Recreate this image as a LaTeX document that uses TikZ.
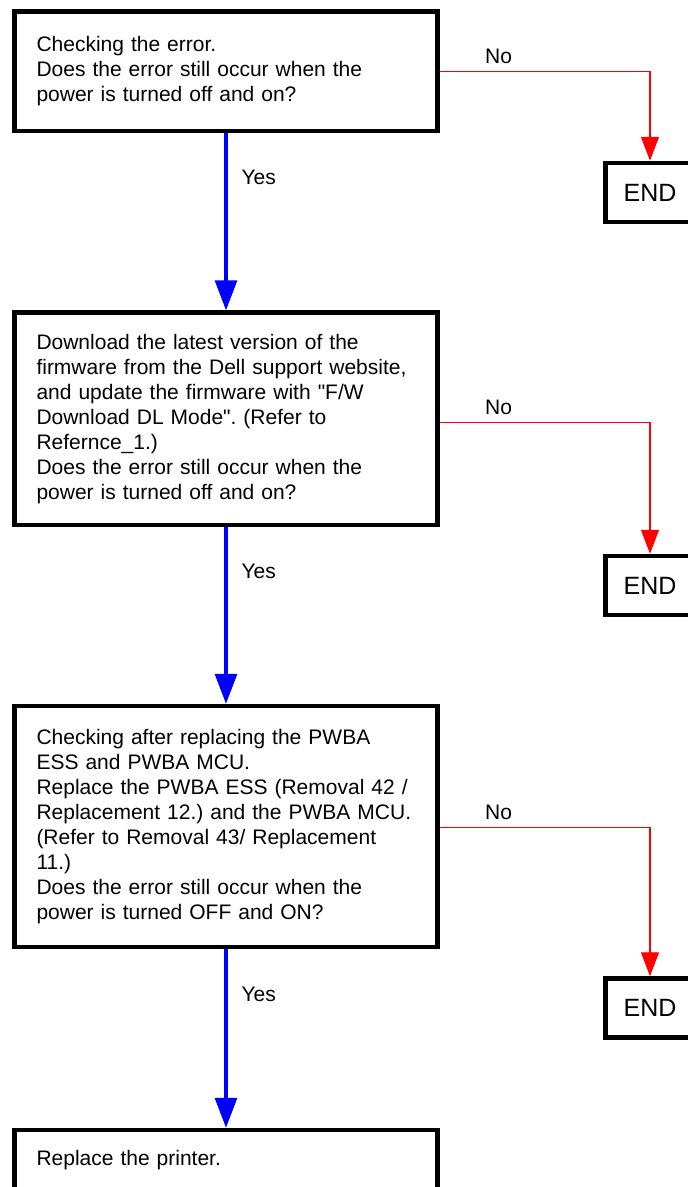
\documentclass[tikz,border=0pt]{standalone}
\usepackage{fontspec}
\setmainfont{Liberation Sans}[Ligatures=TeXOff]
\frenchspacing
\usetikzlibrary{arrows.meta}
\tikzset{
  stepbox/.style={draw, line width=4.5pt, text width=379pt, align=left,
    inner xsep=22pt, inner ysep=0pt, minimum width=423pt,
    font=\fontsize{21}{25}\selectfont},
  endbox/.style={draw, line width=4.5pt, minimum width=89pt, minimum height=59pt,
    inner sep=0pt, font=\fontsize{25}{30}\selectfont},
  yesarrow/.style={draw=blue, line width=3.2pt, -{Triangle[width=22pt,length=30pt]}},
  noarrow/.style={draw=red, line width=1.2pt, -{Triangle[width=18pt,length=24pt]}},
  lbl/.style={font=\fontsize{21}{25}\selectfont, inner sep=0pt, text=black}
}
\begin{document}
\frenchspacing
\begin{tikzpicture}[x=1pt,y=-1pt]
\useasboundingbox (0,0) rectangle (688,1187);
\clip (0,0) rectangle (688,1187);
\fill[white] (0,0) rectangle (688,1187);

\node[stepbox, minimum height=119.5pt] (b1) at (226,71.25)
  {\frenchspacing Checking the error.\\Does the error still occur when the\\power is turned off and on?};
\node[stepbox, minimum height=212.5pt] (b2) at (226,418.75)
  {\frenchspacing Download the latest version of the\\firmware from the Dell support website,\\and update the firmware with "F/W\\Download DL Mode". (Refer to\\Refernce\_1.)\\Does the error still occur when the\\power is turned off and on?};
\node[stepbox, minimum height=241pt] (b3) at (226,826.5)
  {\frenchspacing Checking after replacing the PWBA\\ESS and PWBA MCU.\\Replace the PWBA ESS (Removal 42 /\\Replacement 12.) and the PWBA MCU.\\(Refer to Removal 43/ Replacement\\11.)\\Does the error still occur when the\\power is turned OFF and ON?};
\node[stepbox, minimum height=60pt] (b4) at (226,1160) {Replace the printer.};

\node[endbox] (e1) at (650,192.5) {END};
\node[endbox] (e2) at (650,585.5) {END};
\node[endbox] (e3) at (650,1008) {END};

\draw[yesarrow] (b1.south) -- (b2.north) node[lbl, pos=0.25, anchor=west, xshift=14pt] {Yes};
\draw[yesarrow] (b2.south) -- (b3.north) node[lbl, pos=0.25, anchor=west, xshift=14pt] {Yes};
\draw[yesarrow] (b3.south) -- (b4.north) node[lbl, pos=0.25, anchor=west, xshift=14pt] {Yes};

\draw[noarrow] (b1.east) -| (e1.north) node[lbl, pos=0.14, anchor=base, yshift=8pt] {No};
\draw[noarrow] ([yshift=-3.5pt]b2.east) -| (e2.north) node[lbl, pos=0.14, anchor=base, yshift=8pt] {No};
\draw[noarrow] ([yshift=-1pt]b3.east) -| (e3.north) node[lbl, pos=0.14, anchor=base, yshift=8pt] {No};
\end{tikzpicture}
\end{document}
